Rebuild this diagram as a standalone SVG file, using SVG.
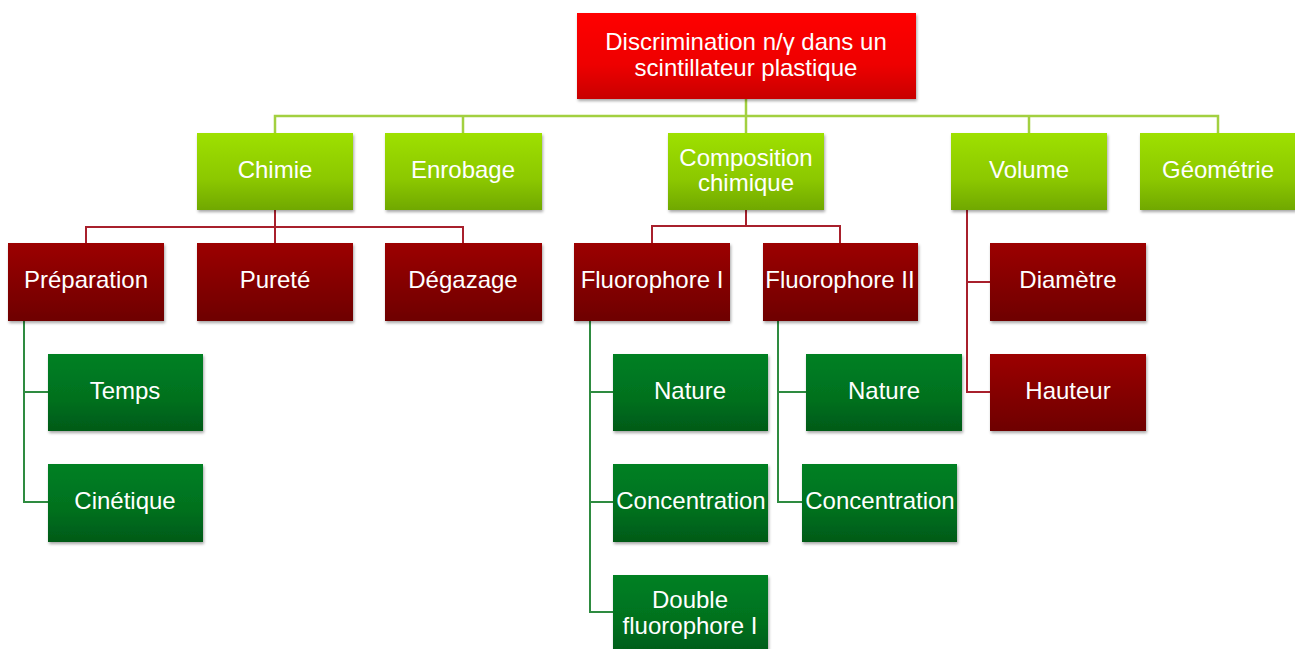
<svg xmlns="http://www.w3.org/2000/svg" width="1295" height="649" viewBox="0 0 1295 649">
<defs>
<linearGradient id="gTop" x1="0" y1="0" x2="0" y2="1"><stop offset="0" stop-color="#ff0000"/><stop offset="0.6" stop-color="#ee0000"/><stop offset="1" stop-color="#c80000"/></linearGradient>
<linearGradient id="gL1" x1="0" y1="0" x2="0" y2="1"><stop offset="0" stop-color="#9ee000"/><stop offset="0.6" stop-color="#8cc800"/><stop offset="1" stop-color="#70a800"/></linearGradient>
<linearGradient id="gRed" x1="0" y1="0" x2="0" y2="1"><stop offset="0" stop-color="#9c0000"/><stop offset="1" stop-color="#6e0000"/></linearGradient>
<linearGradient id="gGrn" x1="0" y1="0" x2="0" y2="1"><stop offset="0" stop-color="#008024"/><stop offset="0.6" stop-color="#00701e"/><stop offset="1" stop-color="#005a18"/></linearGradient>
<filter id="sh" x="-10%" y="-10%" width="125%" height="135%"><feDropShadow dx="1" dy="2" stdDeviation="1.8" flood-color="#000" flood-opacity="0.35"/></filter>
</defs>
<style>
text{font-family:"Liberation Sans",Arial,sans-serif;font-size:24px;fill:#fff;text-anchor:middle}
.top{fill:url(#gTop)}
.l1{fill:url(#gL1)}
.red{fill:url(#gRed)}
.grn{fill:url(#gGrn)}
rect{filter:url(#sh)}
.cg{stroke:#a2d040;stroke-width:2.5;fill:none}
.cr{stroke:#a8202c;stroke-width:2;fill:none}
.cd{stroke:#2e8b40;stroke-width:2;fill:none}
</style>
<rect width="1295" height="649" fill="#fff" style="filter:none"/>
<g id="connectors">
<path class="cg" d="M746,99V116M275,133V116H1218V133M463,116V133M746,116V133M1029,116V133"/>
<path class="cr" d="M275,210V227M86,243V227H463V243M275,227V243"/>
<path class="cr" d="M746,210V226M652,243V226H840V243"/>
<path class="cr" d="M967,210V392H990M967,282H990"/>
<path class="cd" d="M24,321V502H48M24,392H48"/>
<path class="cd" d="M590,321V612H613M590,392H613M590,502H613"/>
<path class="cd" d="M778,321V502H802M778,392H806"/>
</g>
<g id="n-root"><rect class="top" x="577" y="13" width="339" height="86"/><text x="746" y="50">Discrimination n/γ dans un</text><text x="746" y="76">scintillateur plastique</text></g>
<g id="n-chimie"><rect class="l1" x="197" y="133" width="156" height="77"/><text x="275" y="178">Chimie</text></g>
<g id="n-enrobage"><rect class="l1" x="385" y="133" width="157" height="77"/><text x="463" y="178">Enrobage</text></g>
<g id="n-composition"><rect class="l1" x="668" y="133" width="156" height="77"/><text x="746" y="166">Composition</text><text x="746" y="191">chimique</text></g>
<g id="n-volume"><rect class="l1" x="951" y="133" width="156" height="77"/><text x="1029" y="178">Volume</text></g>
<g id="n-geometrie"><rect class="l1" x="1140" y="133" width="156" height="77"/><text x="1218" y="178">Géométrie</text></g>
<g id="n-preparation"><rect class="red" x="8" y="243" width="156" height="78"/><text x="86" y="288">Préparation</text></g>
<g id="n-purete"><rect class="red" x="197" y="243" width="156" height="78"/><text x="275" y="288">Pureté</text></g>
<g id="n-degazage"><rect class="red" x="385" y="243" width="157" height="78"/><text x="463" y="288">Dégazage</text></g>
<g id="n-fluo1"><rect class="red" x="574" y="243" width="156" height="78"/><text x="652" y="288">Fluorophore I</text></g>
<g id="n-fluo2"><rect class="red" x="763" y="243" width="155" height="78"/><text x="840" y="288">Fluorophore II</text></g>
<g id="n-diametre"><rect class="red" x="990" y="243" width="156" height="78"/><text x="1068" y="288">Diamètre</text></g>
<g id="n-hauteur"><rect class="red" x="990" y="354" width="156" height="77"/><text x="1068" y="399">Hauteur</text></g>
<g id="n-temps"><rect class="grn" x="48" y="354" width="155" height="77"/><text x="125" y="399">Temps</text></g>
<g id="n-cinetique"><rect class="grn" x="48" y="464" width="155" height="78"/><text x="125" y="509">Cinétique</text></g>
<g id="n-nature1"><rect class="grn" x="613" y="354" width="155" height="77"/><text x="690" y="399">Nature</text></g>
<g id="n-conc1"><rect class="grn" x="613" y="464" width="155" height="78"/><text x="691" y="509">Concentration</text></g>
<g id="n-double"><rect class="grn" x="613" y="575" width="155" height="80"/><text x="690" y="608">Double</text><text x="690" y="634">fluorophore I</text></g>
<g id="n-nature2"><rect class="grn" x="806" y="354" width="156" height="77"/><text x="884" y="399">Nature</text></g>
<g id="n-conc2"><rect class="grn" x="802" y="464" width="155" height="78"/><text x="880" y="509">Concentration</text></g>
</svg>
